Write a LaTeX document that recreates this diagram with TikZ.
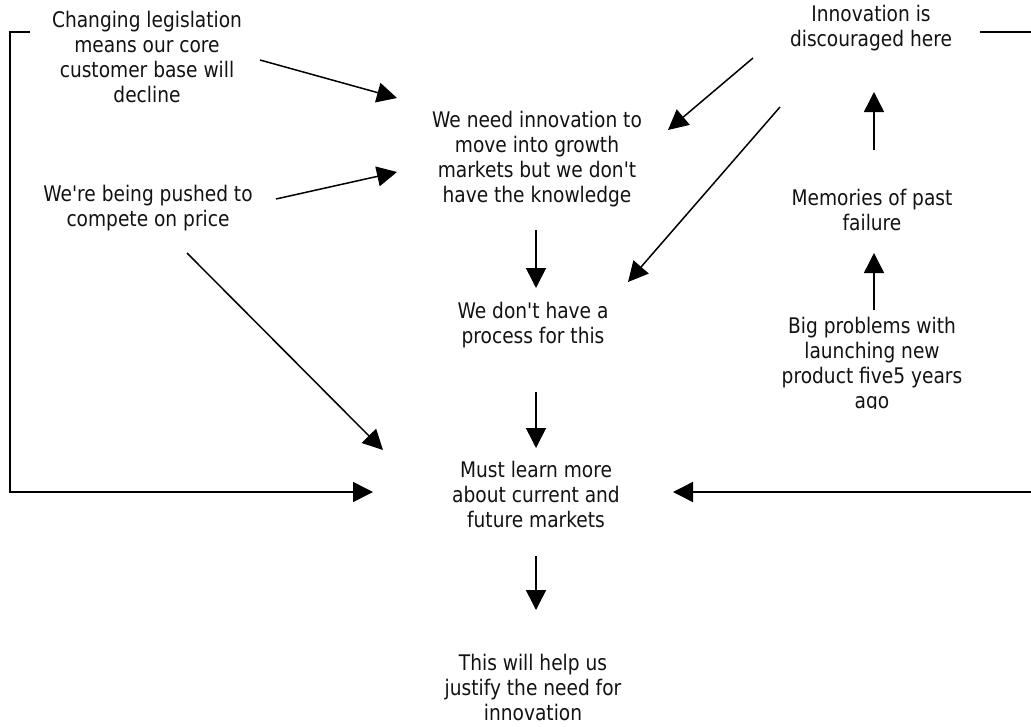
\documentclass[tikz,border=0pt]{standalone}
\usepackage{fontspec}
\setmainfont{DejaVu Sans}[Ligatures=TeXOff, FakeStretch=0.865]
\usetikzlibrary{arrows.meta}
\tikzset{
  lbl/.style={align=center, inner sep=0pt, font=\fontsize{21.5}{25}\selectfont, text=black!93},
  arr/.style={line width=1.5pt, -{Triangle[length=20pt,width=20pt]}},
  link/.style={line width=1.5pt}
}
\begin{document}
\begin{tikzpicture}[x=1pt,y=-1pt]
\useasboundingbox (0,0) rectangle (1031,726);
\clip (0,0) rectangle (1031,726);

% statements
\node[lbl] (A) at (147,57) {Changing legislation\\means our core\\customer base will\\decline};
\begin{scope}
  \clip (300,90) rectangle (760,206);
  \node[lbl] (B) at (537,159) {We need innovation to\\move into growth\\markets but we don't\\have the knowledge};
\end{scope}
\node[lbl] (C) at (148,208) {We're being pushed to\\compete on price};
\node[lbl] (D) at (533,325) {We don't have a\\process for this};
\node[lbl] (E) at (536,494) {Must learn more\\about current and\\future markets};
\node[lbl] (F) at (533,687) {This will help us\\justify the need for\\innovation};
\node[lbl] (G) at (871,28) {Innovation is\\discouraged here};
\node[lbl] (H) at (872,210) {Memories of past\\failure};
\begin{scope}
  \clip (740,300) rectangle (1010,408);
  \node[lbl] (I) at (872,365) {Big problems with\\launching new\\product five5 years\\ago};
\end{scope}

% causal links
\draw[arr] ([shift={(113,3)}]A.center) -- ([shift={(-140,-61)}]B.center);
\draw[arr] ([shift={(128,-9)}]C.center) -- ([shift={(-140,13)}]B.center);
\draw[arr] ([shift={(-118,30)}]G.center) -- ([shift={(131,-29)}]B.center);
\draw[arr] ([shift={(-91,79)}]G.center) -- ([shift={(95,-43)}]D.center);
\draw[arr] ([shift={(-1,71)}]B.center) -- ([shift={(3,-37)}]D.center);
\draw[arr] ([shift={(39,45)}]C.center) -- ([shift={(-153,-44)}]E.center);
\draw[arr] ([shift={(3,67)}]D.center) -- ([shift={(0,-46)}]E.center);
\draw[arr] ([shift={(0,62)}]E.center) -- ([shift={(3,-77)}]F.center);
\draw[arr] ([shift={(2,-60)}]H.center) -- ([shift={(3,64)}]G.center);
\draw[arr] ([shift={(2,-55)}]I.center) -- ([shift={(2,43)}]H.center);

% feedback loops round the sides
\draw[arr] ([shift={(-117,-25)}]A.center) -- ++(-20,0) |- ([shift={(-163,-2)}]E.center);
\draw[arr] ([shift={(109,4)}]G.center) -- ++(65,0) |- ([shift={(137,-2)}]E.center);
\end{tikzpicture}
\end{document}
